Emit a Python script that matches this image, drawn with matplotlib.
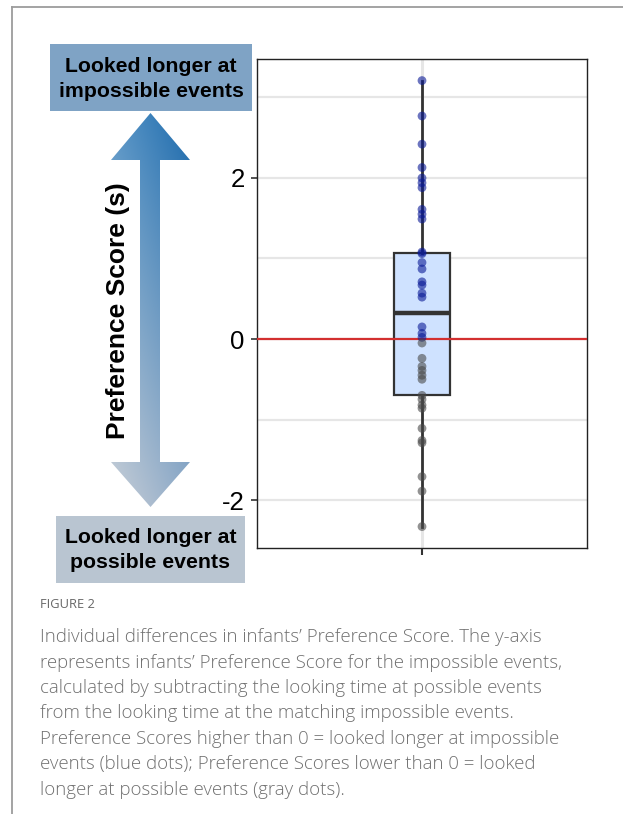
import numpy as np
import matplotlib
matplotlib.use("Agg")
import matplotlib.pyplot as plt
from matplotlib.patches import Polygon, Rectangle
from matplotlib.colors import to_rgb

# Preference scores (s): impossible minus possible looking time
blue_scores = [3.21, 2.77, 2.42, 2.13, 2.00, 1.94, 1.88, 1.61, 1.55, 1.49,
               1.08, 1.06, 0.95, 0.87, 0.71, 0.67, 0.57, 0.52, 0.15, 0.07, 0.02]
gray_scores = [-0.05, -0.24, -0.34, -0.39, -0.45, -0.50, -0.70, -0.75, -0.82,
               -0.86, -1.11, -1.26, -1.29, -1.71, -1.89, -2.33]

# box summary
q1, median, q3 = -0.70, 0.32, 1.07

y_ticks = [-2, 0, 2]
minor_ticks = [-1, 1, 3]

caption_title = "FIGURE 2"
caption_lines = [
    "Individual differences in infants\u2019 Preference Score. The y-axis",
    "represents infants\u2019 Preference Score for the impossible events,",
    "calculated by subtracting the looking time at possible events",
    "from the looking time at the matching impossible events.",
    "Preference Scores higher than 0 = looked longer at impossible",
    "events (blue dots); Preference Scores lower than 0 = looked",
    "longer at possible events (gray dots).",
]

W, H = 623, 814
fig = plt.figure(figsize=(W / 100, H / 100), dpi=100)


def px_rect(x0, y0, x1, y1):
    return [x0 / W, 1 - y1 / H, (x1 - x0) / W, (y1 - y0) / H]


# ---- main panel
ax = fig.add_axes(px_rect(257, 59, 587, 548))

stats = [dict(med=median, q1=q1, q3=q3,
              whislo=min(gray_scores), whishi=max(blue_scores), fliers=[])]
bp = ax.bxp(stats, positions=[1], widths=0.167, patch_artist=True,
            showcaps=False, showfliers=False, manage_ticks=False,
            boxprops=dict(facecolor="#cfe2ff", edgecolor="#333333", lw=1.6),
            medianprops=dict(color="#333333", lw=3.2),
            whiskerprops=dict(color="#333333", lw=2.0))
for art in bp["boxes"] + bp["medians"] + bp["whiskers"]:
    art.set_zorder(2)

ax.axhline(0, color="#d32f2f", lw=1.6, zorder=3)

ax.scatter(np.ones(len(blue_scores)), blue_scores, s=40, color="#0a1a96",
           alpha=0.6, edgecolors="none", zorder=4)
ax.scatter(np.ones(len(gray_scores)), gray_scores, s=40, color="#4a4a4a",
           alpha=0.6, edgecolors="none", zorder=4)

ax.set_xlim(0.5, 1.5)
ax.set_ylim(-2.596, 3.478)
ax.set_yticks(y_ticks)
ax.set_yticklabels([str(t) for t in y_ticks])
ax.set_yticks(minor_ticks, minor=True)
ax.set_xticks([1])
ax.set_xticklabels([""])
ax.grid(which="both", axis="y", color="#e6e6e6", lw=1.6, zorder=0)
ax.grid(axis="x", color="#e6e6e6", lw=2.2, zorder=0)
ax.set_axisbelow(True)
ax.tick_params(axis="y", which="major", length=4, width=1.2, color="#333333",
               labelsize=18.5, pad=5, labelfontfamily="Liberation Sans")
ax.tick_params(axis="y", which="minor", length=0)
ax.tick_params(axis="x", length=5, width=1.5, color="#333333")
for sp in ax.spines.values():
    sp.set_color("#222222")
    sp.set_linewidth(1.0)

# ---- annotation layer in pixel coordinates
deco = fig.add_axes([0, 0, 1, 1], zorder=-1)
deco.axis("off")

deco.plot([12, W], [7, 7], color="#9c9c9c", lw=1.3)
deco.plot([12, 12], [7, H], color="#9c9c9c", lw=1.3)

# double headed arrow with a diagonal gradient fill
ax0, ax1, sx0, sx1 = 111, 190, 140, 160
tip_top, base_top, base_bot, tip_bot = 113, 160, 462, 507
arrow_pts = [(150.5, tip_top), (ax1, base_top), (sx1, base_top), (sx1, base_bot),
             (ax1, base_bot), (150.5, tip_bot), (ax0, base_bot), (sx0, base_bot),
             (sx0, base_top), (ax0, base_top)]
arrow = Polygon(arrow_pts, closed=True, facecolor="none", edgecolor="none")
deco.add_patch(arrow)

tl, tr = np.array(to_rgb("#5b97c8")), np.array(to_rgb("#1d6bad"))
bl, br = np.array(to_rgb("#c9cfd7")), np.array(to_rgb("#90abc8"))
v = np.linspace(0, 1, 200)[:, None, None]
u = np.linspace(0, 1, 60)[None, :, None]
grad = (1 - v) * ((1 - u) * tl + u * tr) + v * ((1 - u) * bl + u * br)
img = deco.imshow(grad, extent=(ax0, ax1, tip_bot, tip_top), aspect="auto",
                  interpolation="bilinear")
img.set_clip_path(arrow)
deco.set_xlim(0, W)
deco.set_ylim(H, 0)

deco.add_patch(Rectangle((50, 44), 202, 67, facecolor="#7fa3c5", edgecolor="none"))
deco.add_patch(Rectangle((56, 516), 189, 67, facecolor="#b9c5d1", edgecolor="none"))
deco.text(151, 79, "Looked longer at\nimpossible events", ha="center", va="center",
          fontsize=15.3, fontweight="bold", family="Liberation Sans",
          linespacing=1.4, color="black")
deco.text(150.5, 550, "Looked longer at\npossible events", ha="center", va="center",
          fontsize=15.3, fontweight="bold", family="Liberation Sans",
          linespacing=1.4, color="black")
deco.text(118, 311, "Preference Score (s)", rotation=90, ha="center", va="center",
          fontsize=19, fontweight="bold", family="Liberation Sans", color="black")

# ---- caption
deco.text(40, 604, caption_title, ha="left", va="center", fontsize=9.3,
          family="Open Sans", color="#666666")
for i, line in enumerate(caption_lines):
    deco.text(40, 637 + i * 25.5, line, ha="left", va="center", fontsize=13.4,
              family="Open Sans", fontweight="light", color="#707070")

fig.savefig("out.png", dpi=100)
